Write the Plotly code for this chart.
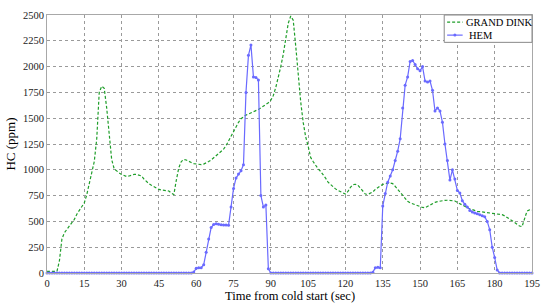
import plotly.graph_objects as go

# GRAND DINK (green dashed), read at ~1 s steps
gd_time = list(range(0, 196))
gd_hc = [
    15, 15, 15, 15, 15, 120, 330, 390, 420, 450,
    480, 520, 570, 610, 640, 680, 760, 860, 960, 1080,
    1300, 1750, 1810, 1790, 1600, 1380, 1100, 1010, 985, 970,
    955, 945, 935, 940, 950, 955, 955, 950, 940, 910,
    885, 865, 850, 835, 820, 810, 805, 800, 800, 795,
    775, 760, 900, 1020, 1080, 1100, 1095, 1080, 1070, 1060,
    1055, 1050, 1050, 1055, 1065, 1080, 1095, 1115, 1135, 1155,
    1175, 1200, 1235, 1280, 1330, 1370, 1420, 1460, 1495, 1515,
    1530, 1540, 1550, 1565, 1575, 1585, 1600, 1615, 1630, 1650,
    1675, 1720, 1800, 1890, 2000, 2120, 2290, 2420, 2490, 2450,
    2200, 1900, 1660, 1460, 1320, 1230, 1120, 1080, 1040, 1010,
    985, 955, 920, 880, 855, 835, 815, 800, 790, 775,
    765, 790, 830, 855, 860, 850, 820, 785, 765, 762,
    770, 785, 810, 830, 845, 858, 866, 870, 872, 866,
    840, 810, 780, 745, 715, 695, 680, 670, 662, 655,
    645, 635, 632, 645, 660, 675, 685, 692, 698, 702,
    704, 705, 705, 705, 698, 685, 670, 655, 642, 632,
    622, 612, 604, 598, 595, 592, 588, 588, 583, 578,
    576, 576, 574, 565, 554, 540, 525, 508, 490, 472,
    455, 450, 520, 600, 612, 610,
]

# HEM (blue with markers), one sample per second
hem_time = list(range(0, 196))
hem_hc = [
    0, 0, 0, 0, 0, 0, 0, 0, 0, 0,
    0, 0, 0, 0, 0, 0, 0, 0, 0, 0,
    0, 0, 0, 0, 0, 0, 0, 0, 0, 0,
    0, 0, 0, 0, 0, 0, 0, 0, 0, 0,
    0, 0, 0, 0, 0, 0, 0, 0, 0, 0,
    0, 0, 0, 0, 0, 0, 0, 0, 0, 10,
    45, 50, 52, 80, 200, 330, 440, 470, 478, 472,
    468, 466, 464, 462, 640, 820, 920, 960, 990, 1050,
    1750, 2110, 2210, 1900, 1895, 1870, 750, 640, 660, 40,
    0, 0, 0, 0, 0, 0, 0, 0, 0, 0,
    0, 0, 0, 0, 0, 0, 0, 0, 0, 0,
    0, 0, 0, 0, 0, 0, 0, 0, 0, 0,
    0, 0, 0, 0, 0, 0, 0, 0, 0, 0,
    0, 8, 50, 55, 50, 650, 770, 880, 940, 1000,
    1090, 1180, 1300, 1600, 1820, 1900, 2050, 2060, 2020, 1980,
    1960, 2000, 1860, 1850, 1860, 1770, 1570, 1600, 1570, 1460,
    1250, 1090, 900, 1000, 910, 800, 775, 700, 665, 640,
    605, 590, 582, 575, 565, 555, 545, 500, 420, 250,
    150, 30, 0, 0, 0, 0, 0, 0, 0, 0,
    0, 0, 0, 0, 0, 0,
]

GREEN = "#1f9e2a"
BLUE = "#6a6aff"
FONT = "Liberation Serif, Times New Roman, serif"
GREEN_DASH = "3px,2px"

fig = go.Figure()
fig.add_trace(go.Scatter(
    x=gd_time, y=gd_hc, name="GRAND DINK", mode="lines",
    line=dict(color=GREEN, width=1.2, dash=GREEN_DASH),
))
fig.add_trace(go.Scatter(
    x=hem_time, y=hem_hc, name="HEM", mode="lines+markers",
    line=dict(color=BLUE, width=1.2),
    marker=dict(color=BLUE, size=3),
    cliponaxis=False,
))

axis_common = dict(
    showgrid=True, gridcolor="#9a9a9a", griddash="dot", gridwidth=1,
    showline=True, linecolor="#a8a8a8", linewidth=1, mirror=True,
    zeroline=False, ticks="",
    tickfont=dict(family=FONT, size=10.5, color="#222"),
)

fig.update_xaxes(range=[0, 195], tick0=0, dtick=15, **axis_common)
fig.update_yaxes(
    range=[0, 2500], tick0=0, dtick=250,
    title=dict(text="HC (ppm)",
               font=dict(family=FONT, size=13, color="#000"), standoff=4),
    **axis_common,
)

# x-axis title placed as annotation so it sits where the reference has it
fig.add_annotation(
    text="Time from cold start (sec)", xref="paper", yref="paper",
    x=0.5, y=-0.089, xanchor="center", yanchor="middle", showarrow=False,
    font=dict(family=FONT, size=12.5, color="#000"),
)

# legend drawn by hand (compact MATLAB-style box in the top-right corner)
fig.add_shape(type="rect", xref="paper", yref="paper",
              x0=0.819, x1=1.0, y0=0.894, y1=1.0,
              line=dict(color="#888", width=1), fillcolor="white", layer="above")
fig.add_shape(type="line", xref="paper", yref="paper",
              x0=0.825, x1=0.857, y0=0.972, y1=0.972,
              line=dict(color=GREEN, width=1.2, dash=GREEN_DASH), layer="above")
fig.add_shape(type="line", xref="paper", yref="paper",
              x0=0.825, x1=0.857, y0=0.922, y1=0.922,
              line=dict(color=BLUE, width=1.2), layer="above")
fig.add_shape(type="circle", xref="paper", yref="paper",
              xsizemode="pixel", ysizemode="pixel",
              xanchor=0.841, yanchor=0.922, x0=-1.5, x1=1.5, y0=-1.5, y1=1.5,
              line=dict(color=BLUE, width=0), fillcolor=BLUE, layer="above")
fig.add_annotation(text="GRAND DINK", xref="paper", yref="paper",
                   x=0.859, y=0.972, xanchor="left", yanchor="middle",
                   showarrow=False, font=dict(family=FONT, size=10.5, color="#000"))
fig.add_annotation(text="HEM", xref="paper", yref="paper",
                   x=0.867, y=0.922, xanchor="left", yanchor="middle",
                   showarrow=False, font=dict(family=FONT, size=10.5, color="#000"))

fig.update_layout(
    width=550, height=304,
    margin=dict(l=42, r=11, t=10, b=31),
    paper_bgcolor="white", plot_bgcolor="white",
    font=dict(family=FONT),
    showlegend=False,
)

# drop the default page margin so the 550x304 figure fills the window exactly
fig.write_html("out.html", config={"displayModeBar": False},
               post_script="document.body.style.margin='0';")
